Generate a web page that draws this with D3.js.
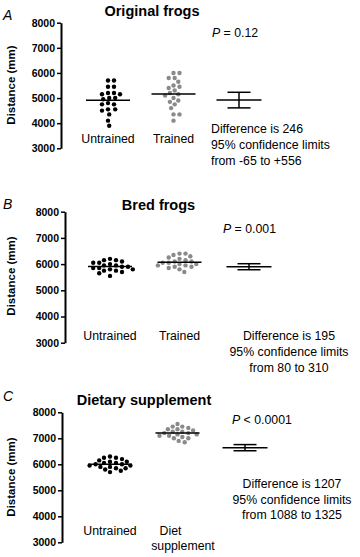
<!DOCTYPE html>
<html>
<head>
<meta charset="utf-8">
<script src="https://cdn.jsdelivr.net/npm/d3@7"></script>
<style>
  body { margin: 0; background: #fff; }
  svg { display: block; font-family: "Liberation Sans", Arial, Helvetica, sans-serif; }
  .tick text { font-size: 10.5px; font-weight: bold; fill: #000; }
  .tick line, .domain { stroke: #000; }
</style>
</head>
<body>
<svg width="360" height="557"></svg>
<script>
// ---- data ----
const panelLetters = ['A', 'B', 'C'];
const panelTitles = ['Original frogs', 'Bred frogs', 'Dietary supplement'];
const groupLabels = [
  [['Untrained'], ['Trained']],
  [['Untrained'], ['Trained']],
  [['Untrained'], ['Diet', 'supplement']]
];
const yTicks = [3000, 4000, 5000, 6000, 7000, 8000];

const untrainedA = [5700, 5700, 5450, 5450, 5200, 5150, 5150, 5200, 5000, 5000,
                    4950, 4800, 4750, 4750, 4550, 4550, 4500, 4350, 4100, 3900];
const trainedA   = [6000, 6000, 5800, 5800, 5650, 5500, 5450, 5400, 5300, 5200,
                    5150, 5100, 5000, 4900, 4850, 4750, 4600, 4350, 4350, 4100];
const untrainedB = [6200, 6150, 6150, 6100, 6050, 6050, 6000, 5950, 5950, 5900,
                    5900, 5850, 5850, 5800, 5800, 5750, 5750, 5700, 5650, 5550];
const trainedB   = [6400, 6400, 6350, 6300, 6250, 6200, 6150, 6100, 6100, 6050,
                    6050, 6000, 6000, 5950, 5950, 5900, 5900, 5850, 5800, 5700];
const untrainedC = [6300, 6250, 6250, 6200, 6150, 6100, 6100, 6050, 6050, 6000,
                    6000, 5950, 5950, 5900, 5900, 5850, 5850, 5800, 5750, 5700];
const trainedC   = [7550, 7450, 7450, 7400, 7350, 7350, 7300, 7250, 7250, 7200,
                    7200, 7150, 7150, 7100, 7100, 7050, 7000, 7000, 6900, 6850];

const differences = [246, 195, 1207];
const ciLow  = [-65, 80, 1088];
const ciHigh = [556, 310, 1325];
const pSigns = ['=', '=', '<'];
const pValues = ['0.12', '0.001', '0.0001'];
const diffTexts = [
  ['Difference is 246', '95% confidence limits', 'from -65 to +556'],
  ['Difference is 195', '95% confidence limits', 'from 80 to 310'],
  ['Difference is 1207', '95% confidence limits', 'from 1088 to 1325']
];

const groups = [[untrainedA, trainedA], [untrainedB, trainedB], [untrainedC, trainedC]];
const dotColors = ['#000', '#8a8a8a'];

// ---- layout per panel ----
const layout = [
  { top: 22.7, bottom: 148.3, axisX: 61, xs: [108, 174, 239], diffAt: 4920,
    letterY: 20, titleX: 152, titleY: 16, labelY: 85, catY: 142.5,
    pX: 212, pY: 37, txtX: 211, txtAnchor: 'start', txtY: [133, 149, 165] },
  { top: 211.7, bottom: 342.7, axisX: 65, xs: [110, 178, 249], diffAt: 5900,
    letterY: 209, titleX: 158.5, titleY: 210, labelY: 276, catY: 340,
    pX: 223, pY: 232.5, txtX: 289, txtAnchor: 'middle', txtY: [339.5, 356, 372] },
  { top: 412.3, bottom: 542.3, axisX: 62, xs: [110, 173, 245], diffAt: 6640,
    letterY: 401, titleX: 144, titleY: 405, labelY: 477, catY: 535,
    pX: 232, pY: 423.5, txtX: 292, txtAnchor: 'middle', txtY: [488, 503.5, 519] }
];

const svg = d3.select('svg');
const r = 2.2;

// simple beeswarm: place each dot at the nearest free horizontal offset
const swarm = (values, yScale, cx) => {
  const pts = values.map(v => ({ v: v, y: yScale(v) }))
    .sort((a, b) => a.y - b.y);
  const placed = [];
  const minD = 2 * r + 0.7;
  pts.forEach(p => {
    for (let k = 0; k < 40; k++) {
      const cands = k === 0 ? [0] : [k * 1.2, -k * 1.2];
      const ok = cands.find(dx => placed.every(q =>
        Math.hypot(q.dx - dx, q.y - p.y) >= minD));
      if (ok !== undefined) { p.dx = ok; break; }
    }
    placed.push(p);
  });
  return placed.map(p => ({ x: cx + p.dx, y: p.y }));
};

layout.forEach((L, i) => {
  const g = svg.append('g');

  const yScale = d3.scaleLinear().domain([3000, 8000]).range([L.bottom, L.top]);
  const xScale = d3.scalePoint().domain(['u', 't', 'd']).range([L.xs[0], L.xs[2]]);
  // difference drawn on a shifted copy of the main axis
  const base = L.diffAt - differences[i];
  const dScale = d3.scaleLinear().domain([3000 - base, 8000 - base]).range([L.bottom, L.top]);

  // panel letter and title
  g.append('text').attr('x', 3).attr('y', L.letterY)
    .attr('font-size', 14).attr('font-style', 'italic').text(panelLetters[i]);
  g.append('text').attr('x', L.titleX).attr('y', L.titleY)
    .attr('text-anchor', 'middle').attr('font-size', 14.5).attr('font-weight', 'bold')
    .text(panelTitles[i]);

  // y axis
  const axisG = g.append('g').attr('transform', `translate(${L.axisX},0)`)
    .call(d3.axisLeft(yScale).tickValues(yTicks).tickFormat(d3.format('d'))
      .tickSize(4).tickSizeOuter(0).tickPadding(2));
  axisG.select('.domain').attr('stroke-width', 2);
  axisG.selectAll('.tick line').attr('stroke-width', 1.5);

  g.append('text')
    .attr('transform', `translate(15,${L.labelY}) rotate(-90)`)
    .attr('text-anchor', 'middle').attr('font-size', 11.5).attr('font-weight', 'bold')
    .text('Distance (mm)');

  // dots and mean lines
  ['u', 't'].forEach((key, j) => {
    const vals = groups[i][j];
    const cx = xScale(key);
    g.append('g').selectAll('circle').data(swarm(vals, yScale, cx)).enter()
      .append('circle')
        .attr('cx', d => d.x).attr('cy', d => d.y).attr('r', r)
        .attr('fill', dotColors[j]);
    const m = d3.mean(vals);
    g.append('line')
      .attr('x1', cx - 22).attr('x2', cx + 22)
      .attr('y1', yScale(m)).attr('y2', yScale(m))
      .attr('stroke', '#000').attr('stroke-width', 1.5);

    const lines = groupLabels[i][j];
    const t = g.append('text').attr('text-anchor', 'middle').attr('font-size', 12.3);
    lines.forEach((s, k) => {
      const off = lines.length > 1 ? (k === 0 ? -7 : 5.5) : 0;
      t.append('tspan').attr('x', cx + off).attr('y', L.catY + k * 14.5).text(s);
    });
  });

  // difference with confidence limits
  const dx = xScale('d');
  const diffG = g.append('g').attr('stroke', '#000').attr('stroke-width', 1.5);
  diffG.append('line').attr('x1', dx - 22.5).attr('x2', dx + 22.5)
    .attr('y1', dScale(differences[i])).attr('y2', dScale(differences[i]));
  [ciLow[i], ciHigh[i]].forEach(v => {
    diffG.append('line').attr('x1', dx - 11.5).attr('x2', dx + 11.5)
      .attr('y1', dScale(v)).attr('y2', dScale(v));
  });
  diffG.append('line').attr('x1', dx).attr('x2', dx)
    .attr('y1', dScale(ciLow[i])).attr('y2', dScale(ciHigh[i]));

  // P value
  const pt = g.append('text').attr('x', L.pX).attr('y', L.pY).attr('font-size', 12.3);
  pt.append('tspan').attr('font-style', 'italic').text('P');
  pt.append('tspan').text(` ${pSigns[i]} ${pValues[i]}`);

  // difference text
  const dt = g.append('text').attr('text-anchor', L.txtAnchor).attr('font-size', 12.3);
  diffTexts[i].forEach((s, k) => {
    dt.append('tspan').attr('x', L.txtX).attr('y', L.txtY[k]).text(s);
  });
});
</script>
</body>
</html>
